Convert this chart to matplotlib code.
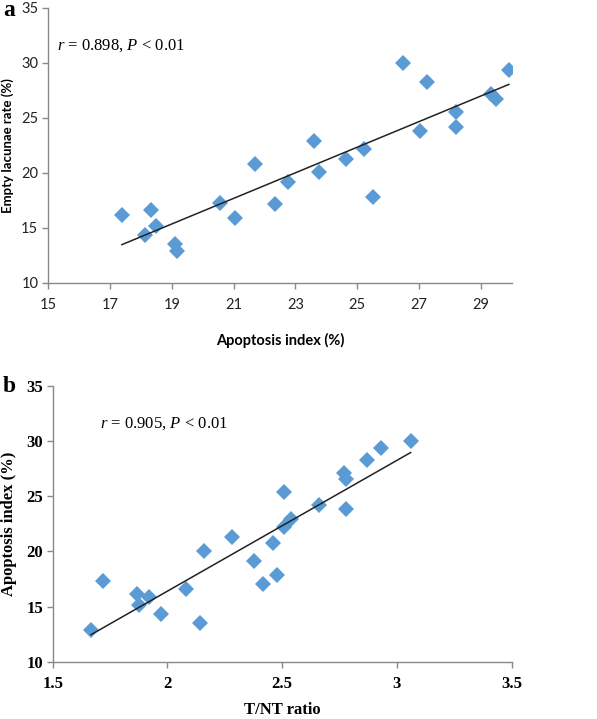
import matplotlib
matplotlib.use('Agg')
import matplotlib.pyplot as plt
import numpy as np

# Panel a: apoptosis index vs empty lacunae rate
apop_a = [17.39, 18.13, 18.32, 18.48, 19.10, 19.17, 20.57, 21.06, 21.69, 22.35,
          22.75, 23.61, 23.75, 24.63, 25.23, 25.52, 26.49, 27.02, 27.25, 28.18,
          28.18, 29.33, 29.47, 29.90]
lacunae_a = [16.2, 14.35, 16.6, 15.2, 13.55, 12.9, 17.3, 15.9, 20.8, 17.15,
             19.2, 22.9, 20.1, 21.3, 22.2, 17.85, 30.0, 23.85, 28.3, 25.5,
             24.2, 27.15, 26.7, 29.4]

# Panel b: T/NT ratio vs apoptosis index
ratio_b = [1.667, 1.72, 1.866, 1.877, 1.92, 1.97, 2.08, 2.14, 2.16, 2.28,
           2.378, 2.418, 2.459, 2.476, 2.508, 2.508, 2.537, 2.662, 2.77, 2.78,
           2.78, 2.87, 2.93, 3.06]
apop_b = [12.9, 17.3, 16.15, 15.15, 15.9, 14.35, 16.6, 13.5, 20.07, 21.3,
          19.17, 17.1, 20.8, 17.9, 25.4, 22.25, 22.9, 24.2, 27.1, 26.6,
          23.8, 28.3, 29.4, 30.0]

xticks_a = [15, 17, 19, 21, 23, 25, 27, 29]
yticks = [10, 15, 20, 25, 30, 35]
xticks_b = [1.5, 2, 2.5, 3, 3.5]
xticklabels_b = ['1.5', '2', '2.5', '3', '3.5']

blue = '#5B9BD5'
gray = '#898989'

# italic r and P in Times-like font
plt.rcParams['mathtext.fontset'] = 'custom'
plt.rcParams['mathtext.rm'] = 'Liberation Serif'
plt.rcParams['mathtext.it'] = 'Liberation Serif:italic'

fig = plt.figure(figsize=(5.97, 7.19), dpi=100)
ax1 = fig.add_axes([0.0804, 0.6064, 0.7772, 0.3825])
ax2 = fig.add_axes([0.0883, 0.0793, 0.7687, 0.3843])

def style(ax):
    for s in ['top', 'right']:
        ax.spines[s].set_visible(False)
    for s in ['left', 'bottom']:
        ax.spines[s].set_color(gray)
        ax.spines[s].set_linewidth(1.0)
    ax.tick_params(direction='out', color=gray, length=4, width=1.0, pad=3)

# --- panel a ---
style(ax1)
ax1.plot(apop_a, lacunae_a, linestyle='none', marker='D', markersize=8.5,
         color=blue, markeredgewidth=0)
k, b = np.polyfit(apop_a, lacunae_a, 1)
xs = np.array([min(apop_a), max(apop_a)])
ax1.plot(xs, k * xs + b, color='#222222', linewidth=1.1)
ax1.set_xlim(15, 30)
ax1.set_ylim(10, 35)
ax1.set_xticks(xticks_a)
ax1.set_yticks(yticks)
ax1.tick_params(axis='x', pad=7)
for lab in ax1.get_xticklabels() + ax1.get_yticklabels():
    lab.set_fontfamily('Lato')
    lab.set_fontsize(10.5)
    lab.set_color('#222222')
ax1.set_xlabel('Apoptosis index (%)', family='Lato', fontweight='bold',
               fontsize=10.5)
ax1.xaxis.set_label_coords(0.5, -0.18)
ax1.set_ylabel('Empty lacunae rate (%)', family='Lato', fontweight='bold',
               fontsize=9.5)
ax1.yaxis.set_label_coords(-0.074, 0.5)
ax1.text(15.3, 31.6, r'$r$ = 0.898, $P$ < 0.01', family='Liberation Serif',
         fontsize=12, va='center', ha='left')
fig.text(0.005, 0.985, 'a', family='Liberation Serif', fontweight='bold',
         fontsize=17, va='center', ha='left')

# --- panel b ---
style(ax2)
ax2.plot(ratio_b, apop_b, linestyle='none', marker='D', markersize=8.5,
         color=blue, markeredgewidth=0)
k2, b2 = np.polyfit(ratio_b, apop_b, 1)
xs2 = np.array([min(ratio_b), max(ratio_b)])
ax2.plot(xs2, k2 * xs2 + b2, color='#222222', linewidth=1.1)
ax2.set_xlim(1.5, 3.5)
ax2.set_ylim(10, 35)
ax2.set_xticks(xticks_b)
ax2.set_xticklabels(xticklabels_b)
ax2.set_yticks(yticks)
ax2.tick_params(axis='x', pad=6)
for lab in ax2.get_xticklabels() + ax2.get_yticklabels():
    lab.set_fontfamily('Liberation Serif')
    lab.set_fontweight('bold')
    lab.set_fontsize(12)
ax2.set_xlabel('T/NT ratio', family='Liberation Serif', fontweight='bold',
               fontsize=12)
ax2.xaxis.set_label_coords(0.5, -0.145)
ax2.set_ylabel('Apoptosis index (%)', family='Liberation Serif',
               fontweight='bold', fontsize=12)
ax2.yaxis.set_label_coords(-0.077, 0.5)
ax2.text(1.706, 31.6, r'$r$ = 0.905, $P$ < 0.01', family='Liberation Serif',
         fontsize=12, va='center', ha='left')
fig.text(0.005, 0.463, 'b', family='Liberation Serif', fontweight='bold',
         fontsize=17, va='center', ha='left')

fig.savefig('out.png', dpi=100)
